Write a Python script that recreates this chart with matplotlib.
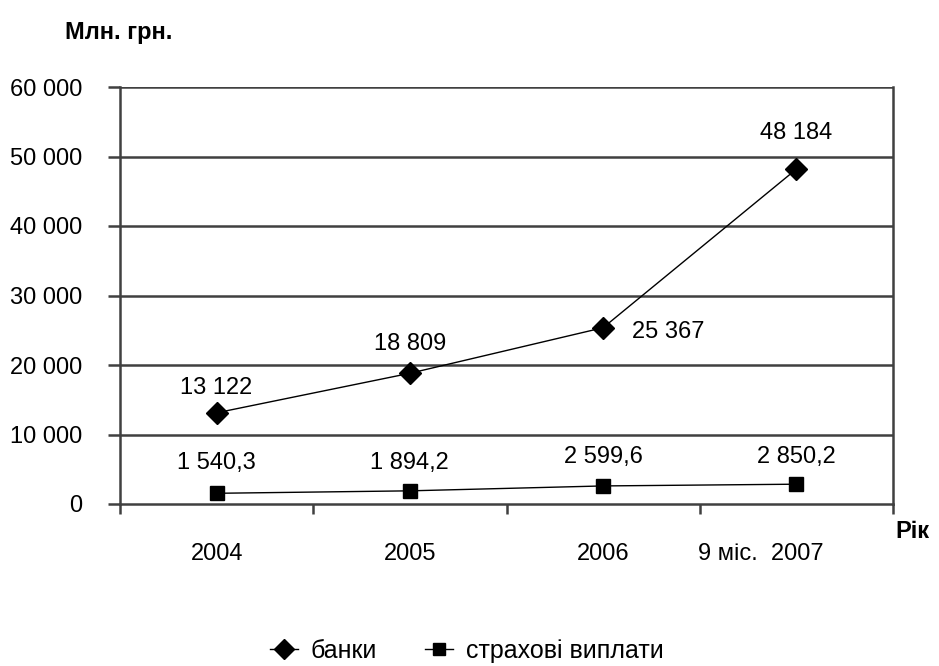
import matplotlib
matplotlib.use("Agg")
import matplotlib.pyplot as plt
import matplotlib.transforms as mtransforms
from matplotlib.ticker import FixedLocator, FuncFormatter

plt.rcParams['font.family'] = ['Liberation Sans', 'DejaVu Sans']

categories = ["2004", "2005", "2006", "9 міс.  2007"]
banks = [13122, 18809, 25367, 48184]
insurance = [1540.3, 1894.2, 2599.6, 2850.2]
bank_labels = ["13 122", "18 809", "25 367", "48 184"]
ins_labels = ["1 540,3", "1 894,2", "2 599,6", "2 850,2"]
yticks = [0, 10000, 20000, 30000, 40000, 50000, 60000]

fs = 17
fig = plt.figure(figsize=(9.39, 6.66), dpi=100)
ax = fig.add_axes([120/939, 1-504/666, (893-120)/939, (504-87)/666])

x = list(range(len(categories)))
grid_c = '#404040'
for yv in yticks[1:]:
    ax.axhline(yv, color=grid_c, lw=1.8, zorder=1)

l1, = ax.plot(x, banks, color='black', lw=1.0, marker='D', markersize=11,
              markerfacecolor='black', zorder=3, label='банки')
l2, = ax.plot(x, insurance, color='black', lw=1.0, marker='s', markersize=10,
              markerfacecolor='black', zorder=3, label='страхові виплати')

ax.set_xlim(-0.5, 3.5)
ax.set_ylim(0, 60000)

ax.spines['top'].set_visible(False)
for s in ['left', 'right', 'bottom']:
    ax.spines[s].set_color(grid_c)
    ax.spines[s].set_linewidth(1.8)

ax.set_yticks(yticks)
ax.yaxis.set_major_formatter(FuncFormatter(lambda v, p: f"{int(v):,}".replace(",", " ")))
ax.tick_params(axis='y', length=9, width=1.8, color=grid_c, pad=18, labelsize=fs)

ax.set_xticks(x)
ax.set_xticklabels(categories)
ax.tick_params(axis='x', which='major', length=0, pad=28, labelsize=fs)
ax.xaxis.set_minor_locator(FixedLocator([-0.5, 0.5, 1.5, 2.5, 3.5]))
ax.tick_params(axis='x', which='minor', length=7, width=1.8, color=grid_c, direction='out')

# last category label sits left of its category centre in the reference
lbl = ax.get_xticklabels()[-1]
lbl.set_transform(lbl.get_transform() + mtransforms.ScaledTranslation(-36/100, 0, fig.dpi_scale_trans))

# data labels (offsets in pixels)
offs_b = [(0, 25, 'center'), (0, 29, 'center'), (29, -4, 'left'), (0, 36, 'center')]
for i, (v, t) in enumerate(zip(banks, bank_labels)):
    dx, dy, ha = offs_b[i]
    ax.annotate(t, (i, v), xytext=(dx, dy), textcoords='offset pixels',
                ha=ha, va='center', fontsize=fs)
offs_i = [30, 28, 29, 27]
for i, (v, t) in enumerate(zip(insurance, ins_labels)):
    ax.annotate(t, (i, v), xytext=(0, offs_i[i]), textcoords='offset pixels',
                ha='center', va='center', fontsize=fs)

fig.text(65/939, 1-33/666, "Млн. грн.", fontsize=17, fontweight='bold', ha='left', va='center')
fig.text(895/939, 1-531/666, "Рік", fontsize=17, fontweight='bold', ha='left', va='center')

fig.legend(handles=[l1, l2], loc='center', bbox_to_anchor=(0.497, 1-651/666), ncol=2,
           frameon=False, fontsize=18, handlelength=1.15, markerscale=0.9,
           columnspacing=1.9, handletextpad=0.5)

fig.savefig("out.png", dpi=100)
